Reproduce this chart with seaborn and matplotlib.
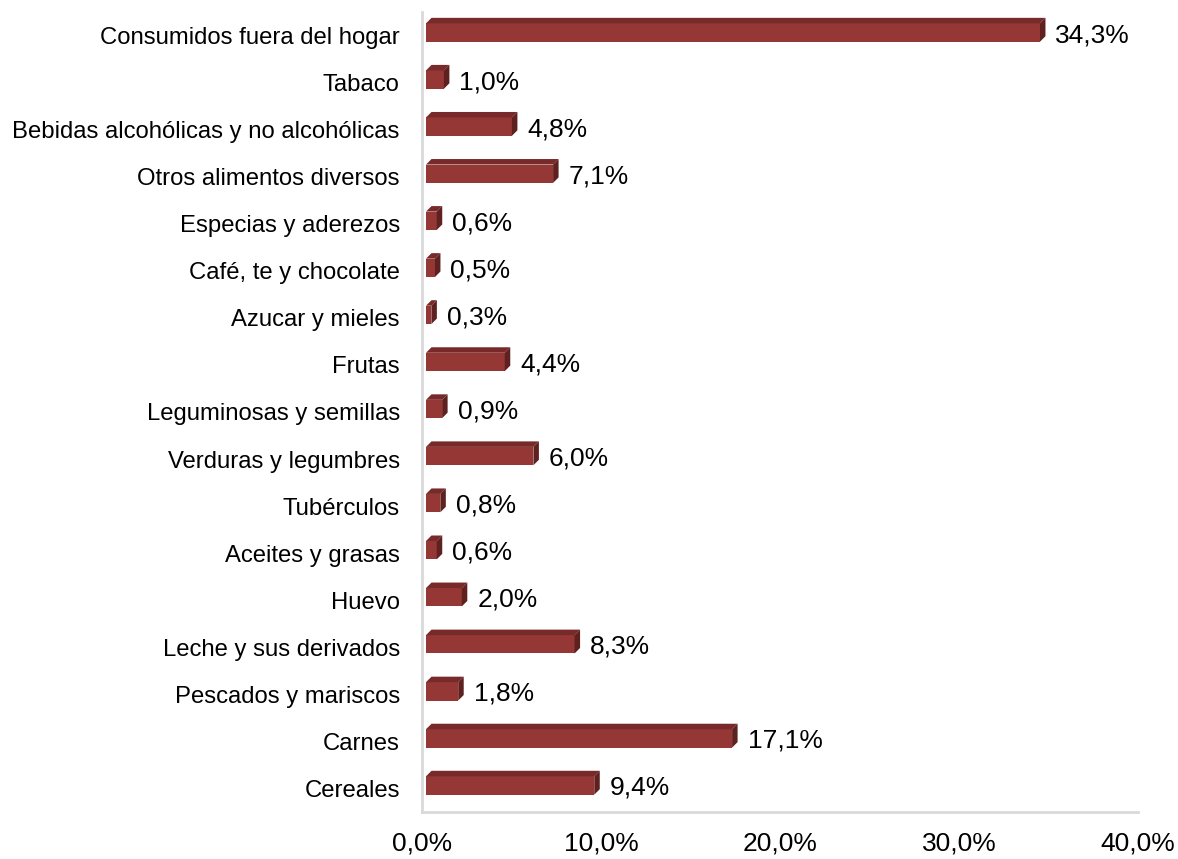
import matplotlib
matplotlib.use("Agg")
import matplotlib.pyplot as plt
import seaborn as sns
import pandas as pd
from matplotlib.patches import Polygon
from matplotlib.ticker import FuncFormatter

categories = [
    "Consumidos fuera del hogar", "Tabaco", "Bebidas alcohólicas y no alcohólicas",
    "Otros alimentos diversos", "Especias y aderezos", "Café, te y chocolate",
    "Azucar y mieles", "Frutas", "Leguminosas y semillas", "Verduras y legumbres",
    "Tubérculos", "Aceites y grasas", "Huevo", "Leche y sus derivados",
    "Pescados y mariscos", "Carnes", "Cereales",
]
values = [34.3, 1.0, 4.8, 7.1, 0.6, 0.5, 0.3, 4.4, 0.9, 6.0, 0.8, 0.6, 2.0, 8.3, 1.8, 17.1, 9.4]
xticks = [0, 10, 20, 30, 40]

front_color = "#953735"
top_color = "#772a29"
side_color = "#5e2120"

sns.set_theme(style="white")
plt.rcParams["font.family"] = ["Liberation Sans", "DejaVu Sans"]

W, H, DPI = 1178, 859, 100
fig = plt.figure(figsize=(W / DPI, H / DPI), dpi=DPI)
left, right, bottom, top = 422 / W, 1138 / W, 1 - 812 / H, 1 - 12 / H
ax = fig.add_axes([left, bottom, right - left, top - bottom])

df = pd.DataFrame({"cat": categories, "val": values})
bar_w = 0.39
sns.barplot(data=df, y="cat", x="val", orient="h", color=front_color,
            saturation=1, width=bar_w, ax=ax, linewidth=0)

ax.set_xlim(0, 40)
ax.set_ylim(len(categories) - 0.5, -0.5)

# pixel -> data conversions for the 3D depth
ax_w_px = (right - left) * W
ax_h_px = (top - bottom) * H
px_x = 40 / ax_w_px
px_y = len(categories) / ax_h_px
depth = 5.5
dx, dy = depth * px_x, depth * px_y
shift = 4 * px_x
yshift = 3 * px_y

for p in ax.patches:
    x0 = p.get_x() + shift
    p.set_x(x0)
    p.set_y(p.get_y() - yshift)
    w = p.get_width()
    y0 = p.get_y()
    h = p.get_height()
    ytop, ybot = y0, y0 + h  # inverted axis: y0 is top
    x1 = x0 + w
    topface = Polygon([(x0, ytop), (x1, ytop), (x1 + dx, ytop - dy), (x0 + dx, ytop - dy)],
                      closed=True, facecolor=top_color, edgecolor="none", zorder=p.get_zorder())
    sideface = Polygon([(x1, ybot), (x1, ytop), (x1 + dx, ytop - dy), (x1 + dx, ybot - dy)],
                       closed=True, facecolor=side_color, edgecolor="none", zorder=p.get_zorder())
    ax.add_patch(topface)
    ax.add_patch(sideface)

for i, v in enumerate(values):
    ax.text(v + shift + dx + 10 * px_x, i - yshift + 2.5 * px_y, f"{v:.1f}%".replace(".", ","),
            va="center", ha="left", fontsize=19, color="black")

ax.set_xticks(xticks)
ax.xaxis.set_major_formatter(FuncFormatter(lambda x, pos: f"{x:.1f}%".replace(".", ",")))
ax.set_xlabel("")
ax.set_ylabel("")
ax.tick_params(axis="both", length=0, colors="black")
ax.tick_params(axis="x", pad=14, labelsize=19)
ax.tick_params(axis="y", pad=16, labelsize=17.2)

for s in ["top", "right"]:
    ax.spines[s].set_visible(False)
for s in ["left", "bottom"]:
    ax.spines[s].set_color("#d9d9d9")
    ax.spines[s].set_linewidth(2)

fig.savefig("out.png", dpi=DPI, facecolor="white")
